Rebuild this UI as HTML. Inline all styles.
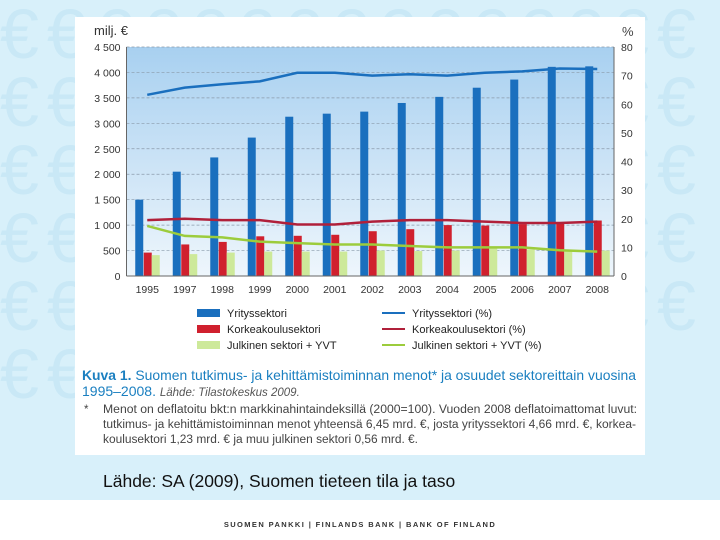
<!DOCTYPE html>
<html><head><meta charset="utf-8"><style>
body{margin:0;width:720px;height:540px;overflow:hidden;font-family:"Liberation Sans",sans-serif;background:#d8f0fa;position:relative}
#bg{position:absolute;left:0;top:0;width:720px;height:500px;overflow:hidden;color:#c9e8f6;font-size:70px;line-height:68px;letter-spacing:8px;word-break:break-all}
#card{position:absolute;left:75px;top:17px;width:570px;height:438px;background:#fff}
#src{position:absolute;left:103px;top:471px;font-size:17.5px;color:#111}
#foot{position:absolute;left:0;top:500px;width:720px;height:40px;background:#fff}
#foot div{position:absolute;left:0;width:720px;top:20px;text-align:center;font-size:7.5px;font-weight:bold;letter-spacing:1.4px;color:#333}
</style></head><body>
<div id="bg">€€€€€€€€€€€€€€€€€€€€€€€€€€€€€€€€€€€€€€€€€€€€€€€€€€€€€€€€€€€€€€€€€€€€€€€€€€€€€€€€€€€€€€</div>
<div id="card"></div>
<svg id="chart" width="720" height="540" style="position:absolute;left:0;top:0">
<defs><linearGradient id="g" x1="0" y1="0" x2="0" y2="1"><stop offset="0" stop-color="#a8d0f0"/><stop offset="1" stop-color="#eef6fc"/></linearGradient></defs>
<rect x="126.5" y="47" width="487.5" height="229" fill="url(#g)"/>
<g id="grid"></g><g id="bars"></g><g id="lines"></g><g id="axes"></g>
<text x="94" y="35" font-size="13" fill="#333">milj. €</text>
<text x="622" y="36" font-size="13" fill="#444">%</text>
<g font-size="11" fill="#222">
<rect x="197" y="309" width="23" height="8" fill="#1a6fbe"/><text x="227" y="317">Yrityssektori</text>
<rect x="197" y="325" width="23" height="8" fill="#d0202e"/><text x="227" y="333">Korkeakoulusektori</text>
<rect x="197" y="341" width="23" height="8" fill="#cde99a"/><text x="227" y="349">Julkinen sektori + YVT</text>
<line x1="382" y1="313" x2="405" y2="313" stroke="#1a6fbe" stroke-width="2"/><text x="412" y="317">Yrityssektori (%)</text>
<line x1="382" y1="329" x2="405" y2="329" stroke="#b0203a" stroke-width="2"/><text x="412" y="333">Korkeakoulusektori (%)</text>
<line x1="382" y1="345" x2="405" y2="345" stroke="#9ccc3c" stroke-width="2"/><text x="412" y="349">Julkinen sektori + YVT (%)</text>
</g>
<text x="82" y="380" font-size="14" fill="#1a7fc0" textLength="554" lengthAdjust="spacingAndGlyphs"><tspan font-weight="bold">Kuva 1.</tspan> Suomen tutkimus- ja kehittämistoiminnan menot* ja osuudet sektoreittain vuosina</text>
<text x="82" y="396" font-size="14" fill="#1a7fc0">1995–2008. <tspan font-style="italic" font-size="11.5" fill="#555">Lähde: Tilastokeskus 2009.</tspan></text>
<g font-size="11.5" fill="#444">
<text x="84" y="413">*</text>
<text x="103" y="413" textLength="534" lengthAdjust="spacingAndGlyphs">Menot on deflatoitu bkt:n markkinahintaindeksillä (2000=100). Vuoden 2008 deflatoimattomat luvut:</text>
<text x="103" y="428" textLength="533" lengthAdjust="spacingAndGlyphs">tutkimus- ja kehittämistoiminnan menot yhteensä 6,45 mrd. €, josta yrityssektori 4,66 mrd. €, korkea-</text>
<text x="103" y="443" textLength="315" lengthAdjust="spacingAndGlyphs">koulusektori 1,23 mrd. € ja muu julkinen sektori 0,56 mrd. €.</text>
</g>
</svg>
<div id="src">Lähde: SA (2009), Suomen tieteen tila ja taso</div>
<div id="foot"><div>SUOMEN PANKKI | FINLANDS BANK | BANK OF FINLAND</div></div>
<script>
const years=["1995","1997","1998","1999","2000","2001","2002","2003","2004","2005","2006","2007","2008"];
const business=[1500,2050,2330,2720,3130,3190,3230,3400,3520,3700,3860,4110,4120];
const university=[460,620,670,780,790,810,880,920,1000,990,1020,1050,1090];
const publicSector=[410,430,460,480,480,480,500,490,500,540,520,500,500];
const businessPct=[63.3,65.8,67,68,71,71,70,70.5,70,71,71.5,72.5,72.3];
const universityPct=[19.5,20,19.5,19.5,18,18,19,19.5,19.5,19,18.5,18.5,19];
const publicPct=[17.5,14,13.5,12,11.5,11,11,10.5,10,10,10,9,8.5];
const leftTicks=[0,500,1000,1500,2000,2500,3000,3500,4000,4500];
const rightTicks=[0,10,20,30,40,50,60,70,80];
const NS="http://www.w3.org/2000/svg";
const X0=126.5,X1=614,Y0=276,Y1=47,band=(X1-X0)/years.length;
const yL=v=>Y0-(v/4500)*(Y0-Y1), yR=v=>Y0-(v/80)*(Y0-Y1), xc=i=>X0+band*i+band/2+2;
function mk(p,t,a){const e=document.createElementNS(NS,t);for(const k in a)e.setAttribute(k,a[k]);document.getElementById(p).appendChild(e);return e;}
leftTicks.forEach(v=>{if(v>0){const l=mk('grid','line',{x1:X0,x2:X1,y1:yL(v),y2:yL(v),stroke:'#8a9aaa','stroke-width':0.7,'stroke-dasharray':'3,2'});

}
const t=mk('axes','text',{x:X0-6,y:yL(v)+4,'font-size':10.5,'text-anchor':'end',fill:'#333'});t.textContent=v>=1000?(Math.floor(v/1000)+" "+String(v%1000).padStart(3,"0")):String(v);

});
rightTicks.forEach(v=>{const t=mk('axes','text',{x:X1+7,y:yR(v)+4,'font-size':10.5,fill:'#333'});t.textContent=v;

});
mk('axes','line',{x1:X0,x2:X0,y1:Y1,y2:Y0,stroke:'#666'});mk('axes','line',{x1:X1,x2:X1,y1:Y1,y2:Y0,stroke:'#666'});mk('axes','line',{x1:X0,x2:X1,y1:Y0,y2:Y0,stroke:'#666'});
const series=[[business,'#1a6fbe',-10.5],[university,'#d0202e',-2],[publicSector,'#cde99a',6]];
years.forEach((y,i)=>{
series.forEach(([d,c,o])=>{const r=mk('bars','rect',{x:xc(i)+o-1.5,y:yL(d[i]),width:8,height:Y0-yL(d[i]),fill:c});

});
const t=mk('axes','text',{x:xc(i),y:Y0+17,'font-size':10.5,'text-anchor':'middle',fill:'#333'});t.textContent=y;

});
[[businessPct,'#1a6fbe'],[universityPct,'#b0203a'],[publicPct,'#9ccc3c']].forEach(([d,c])=>{
const p=mk('lines','polyline',{points:d.map((v,i)=>xc(i)+","+yR(v)).join(" "),fill:'none',stroke:c,'stroke-width':2.5});

});
</script>
</body></html>
